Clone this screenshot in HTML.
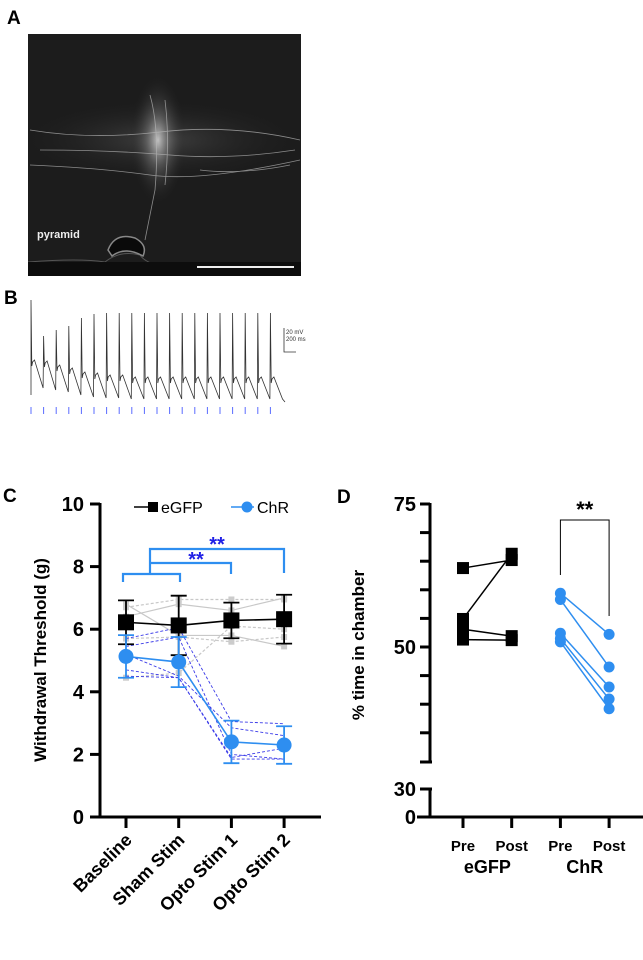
<!DOCTYPE html>
<html><head><meta charset="utf-8"><style>
body{margin:0;background:#fff;width:643px;height:960px;overflow:hidden;font-family:"Liberation Sans",Arial,sans-serif}
svg{position:absolute;left:0;top:0}
</style></head><body>
<svg width="643" height="960" viewBox="0 0 643 960" font-family="Liberation Sans, Arial, sans-serif">
<defs>
<radialGradient id="glow" cx="0.5" cy="0.5" r="0.5">
<stop offset="0" stop-color="#d8d8d8" stop-opacity="0.85"/>
<stop offset="0.4" stop-color="#888" stop-opacity="0.45"/>
<stop offset="1" stop-color="#222" stop-opacity="0"/>
</radialGradient>
<radialGradient id="glow2" cx="0.5" cy="0.5" r="0.5">
<stop offset="0" stop-color="#666" stop-opacity="0.5"/>
<stop offset="1" stop-color="#222" stop-opacity="0"/>
</radialGradient>
<clipPath id="clipA"><rect x="28" y="34" width="273" height="242"/></clipPath>
</defs>
<!-- Panel A -->
<text x="7" y="24" font-size="19" font-weight="bold">A</text>
<g clip-path="url(#clipA)">
<rect x="28" y="34" width="273" height="242" fill="#1c1c1c"/>
<ellipse cx="160" cy="140" rx="140" ry="40" fill="url(#glow2)"/>
<ellipse cx="158" cy="140" rx="28" ry="65" fill="url(#glow)"/>
<g stroke="#bbb" stroke-width="0.8" fill="none" opacity="0.7">
<path d="M30 165 Q100 168 150 175 T300 160"/>
<path d="M30 130 Q90 140 160 132 T300 140"/>
<path d="M40 150 Q110 150 170 155 T295 150"/>
<path d="M150 95 Q160 130 155 190 L145 240"/>
<path d="M165 100 Q170 140 165 185"/>
<path d="M200 170 Q240 175 290 165"/>
</g>
<path d="M28 262 Q80 258 105 262 Q120 250 140 255 Q150 270 200 268 L301 268" stroke="#555" fill="none"/>
<path d="M108 250 Q115 232 135 238 Q148 245 143 256 Q125 246 112 256 Z" fill="#0a0a0a" stroke="#888" stroke-width="1.5"/>
<rect x="28" y="262" width="273" height="14" fill="#0d0d0d"/>
<text x="37" y="238" font-size="11" font-weight="bold" fill="#eee">pyramid</text>
<line x1="197" y1="267" x2="294" y2="267" stroke="#eee" stroke-width="2"/>
</g>
<!-- Panel B -->
<text x="4" y="304" font-size="19" font-weight="bold">B</text>
<g id="trace"></g>
<g>
<path d="M284 328 V352 H296" stroke="#333" fill="none" stroke-width="0.8"/>
<text x="286" y="334" font-size="6" fill="#333">20 mV</text>
<text x="286" y="341" font-size="6" fill="#333">200 ms</text>
</g>
<!-- Panel C -->
<text x="3" y="502" font-size="19" font-weight="bold">C</text>
<g id="chartC"></g>
<!-- Panel D -->
<text x="337" y="503" font-size="19" font-weight="bold">D</text>
<g id="chartD"></g>
</svg>
<script>
const NS="http://www.w3.org/2000/svg";
function mk(p,t,a,txt){const e=document.createElementNS(NS,t);for(const k in a)e.setAttribute(k,a[k]);if(txt!==undefined)e.textContent=txt;p.appendChild(e);return e;}

// ---- Panel B data ----
const spikePeaks=[300,336,330,326,318,314,313,313,313,313,313,313,313,313,313,313,313,313,313,313];
const afterHumps=[360,361,365,368,372,373,375,375,377,377,377,377,377,377,377,377,377,377,377,377];
const troughs=[388,390,392,395,397,398,398,399,399,399,399,399,399,399,399,399,399,399,399,399];
(function(){
 const g=document.getElementById('trace');
 const x0=31,dx=12.6;
 let d="M31 395";
 spikePeaks.forEach((p,i)=>{const x=x0+i*dx;
  d+=` L${x} ${p} L${x+0.8} ${afterHumps[i]+6} L${x+1.6} ${afterHumps[i]+2} L${x+3.5} ${afterHumps[i]} L${x+dx-0.5} ${troughs[i]}`;
 });
 d+=` L${x0+20*dx+2} 402`;
 const t=mk(g,'path',{d:d,fill:'none',stroke:'#333','stroke-width':0.8});
 
 
 spikePeaks.forEach((p,i)=>{const x=x0+i*dx;
  const s=mk(g,'line',{x1:x,x2:x,y1:407,y2:414,stroke:'#5a6cff','stroke-width':1});
  
  
 });
})();

// ---- Panel C data ----
const cCategories=["Baseline","Sham Stim","Opto Stim 1","Opto Stim 2"];
const cTicks=[0,2,4,6,8,10];
const egfpMean=[6.22,6.12,6.28,6.32];
const egfpErr=[0.7,0.95,0.57,0.78];
const chrMean=[5.13,4.95,2.4,2.3];
const chrErr=[0.68,0.8,0.68,0.6];
const egfpInd1=[6.7,6.95,6.95,6.95];
const egfpInd2=[6.4,6.8,6.6,7.0];
const egfpInd3=[5.7,5.75,5.6,5.75];
const egfpInd4=[6.8,5.8,5.8,5.45];
const egfpInd5=[4.45,4.6,6.1,6.0];
const chrInd1=[5.7,6.05,3.05,2.98];
const chrInd2=[5.2,4.5,2.85,2.6];
const chrInd3=[4.7,4.45,1.9,2.2];
const chrInd4=[4.5,4.45,1.85,1.85];
const chrInd5=[5.45,5.75,2.0,1.85];
(function(){
 const g=document.getElementById('chartC');
 const y=v=>817-v*31.3;
 const x=i=>126+i*52.7;
 const BL="#2e8ef0";
 let a=mk(g,'line',{x1:100,x2:100,y1:503,y2:818,stroke:'#000','stroke-width':3});
 
 a=mk(g,'line',{x1:98.5,x2:321,y1:817,y2:817,stroke:'#000','stroke-width':3});
 
 cTicks.forEach(v=>{mk(g,'line',{x1:90,x2:100,y1:y(v),y2:y(v),stroke:'#000','stroke-width':3});
  const t=mk(g,'text',{x:84,y:y(v)+7,'font-size':20,'font-weight':'bold','text-anchor':'end'},v);
  });
 cCategories.forEach((c,i)=>{mk(g,'line',{x1:x(i),x2:x(i),y1:817,y2:828,stroke:'#000','stroke-width':3});
  const t=mk(g,'text',{x:0,y:0,'font-size':18,'font-weight':'bold','text-anchor':'end',transform:`translate(${x(i)+7},${841}) rotate(-45)`},c);
  });
 const yt=mk(g,'text',{x:0,y:0,'font-size':17,'font-weight':'bold','text-anchor':'middle',transform:'translate(46,660) rotate(-90)'},'Withdrawal Threshold (g)');
 
 [egfpInd1,egfpInd2,egfpInd3,egfpInd4,egfpInd5].forEach((arr,k)=>{
  const l=mk(g,'polyline',{points:arr.map((v,i)=>x(i)+','+y(v)).join(' '),fill:'none',stroke:'#c8c8c8','stroke-width':1.2,'stroke-dasharray':k%2?'none':'3,2'});
  
  arr.forEach((v,i)=>mk(g,'rect',{x:x(i)-3,y:y(v)-3,width:6,height:6,fill:'#ccc'}));
 });
 [chrInd1,chrInd2,chrInd3,chrInd4,chrInd5].forEach(arr=>{
  const l=mk(g,'polyline',{points:arr.map((v,i)=>x(i)+','+y(v)).join(' '),fill:'none',stroke:'#3a3ae8','stroke-width':0.9,'stroke-dasharray':'3,2'});
  
 });
 function series(m,e,col,sq,name){
  const l=mk(g,'polyline',{points:m.map((v,i)=>x(i)+','+y(v)).join(' '),fill:'none',stroke:col,'stroke-width':1.6});
  
  m.forEach((v,i)=>{
   mk(g,'path',{d:`M${x(i)} ${y(v-e[i])} V${y(v+e[i])} M${x(i)-8} ${y(v-e[i])} H${x(i)+8} M${x(i)-8} ${y(v+e[i])} H${x(i)+8}`,stroke:col,'stroke-width':1.8,fill:'none'});
   const p=sq?mk(g,'rect',{x:x(i)-8,y:y(v)-8,width:16,height:16,fill:col}):mk(g,'circle',{cx:x(i),cy:y(v),r:7.5,fill:col});
   
  });
 }
 series(egfpMean,egfpErr,'#000',true,'egfp');
 series(chrMean,chrErr,BL,false,'chr');
 const lg=mk(g,'g',{});
 mk(lg,'line',{x1:134,x2:157,y1:507,y2:507,stroke:'#000','stroke-width':1.5});
 mk(lg,'rect',{x:148,y:502,width:10,height:10,fill:'#000'});
 mk(lg,'text',{x:161,y:513,'font-size':16},'eGFP');
 mk(lg,'line',{x1:231,x2:254,y1:507,y2:507,stroke:BL,'stroke-width':1.5});
 mk(lg,'circle',{cx:247,cy:507,r:5.5,fill:BL});
 mk(lg,'text',{x:257,y:513,'font-size':16},'ChR');
 const br=mk(g,'path',{d:'M123 582 V574 H180 V582 M150 574 V549 H284 V573 M150 563 H231 V574',stroke:BL,'stroke-width':2.2,fill:'none'});
 
 mk(g,'text',{x:217,y:551,'font-size':20,'font-weight':'bold',fill:'#1f1fe6','text-anchor':'middle'},'**');
 mk(g,'text',{x:196,y:566,'font-size':20,'font-weight':'bold',fill:'#1f1fe6','text-anchor':'middle'},'**');
})();

// ---- Panel D data ----
const dCategories=["Pre","Post","Pre","Post"];
const dGroups=["eGFP","ChR"];
const egfpPre=[63.8,54.9,53.1,51.3];
const egfpPost=[65.2,66.3,51.9,51.2];
const chrPre=[59.4,58.3,52.4,51.5,50.9];
const chrPost=[52.2,46.5,43.0,40.9,39.2];
(function(){
 const g=document.getElementById('chartD');
 const y=v=>v>=30?647-(v-50)*5.72:817-v*(28/30);
 const x=i=>463+i*48.7;
 const BL="#2e8ef0";
 let a=mk(g,'path',{d:'M430 503 V762 M420 762 H432 M430 788 V818 M420 789 H432',stroke:'#000','stroke-width':3,fill:'none'});
 
 a=mk(g,'line',{x1:417,x2:643,y1:817,y2:817,stroke:'#000','stroke-width':3});
 
 for(let v=35;v<=75;v+=5)mk(g,'line',{x1:420,x2:430,y1:y(v),y2:y(v),stroke:'#000','stroke-width':3});
 [[75,y(75)],[50,y(50)],[30,789],[0,817]].forEach(([v,py])=>{
  const t=mk(g,'text',{x:416,y:py+7,'font-size':20,'font-weight':'bold','text-anchor':'end'},v);
  });
 const yt=mk(g,'text',{x:0,y:0,'font-size':17,'font-weight':'bold','text-anchor':'middle',transform:'translate(364,645) rotate(-90)'},'% time in chamber');
 
 dCategories.forEach((c,i)=>{mk(g,'line',{x1:x(i),x2:x(i),y1:817,y2:828,stroke:'#000','stroke-width':3});
  const t=mk(g,'text',{x:x(i),y:851,'font-size':15,'font-weight':'bold','text-anchor':'middle'},c);
  });
 dGroups.forEach((c,i)=>{const t=mk(g,'text',{x:(x(2*i)+x(2*i+1))/2,y:873,'font-size':18,'font-weight':'bold','text-anchor':'middle'},c);
  });
 egfpPre.forEach((v,k)=>{const l=mk(g,'line',{x1:x(0),y1:y(v),x2:x(1),y2:y(egfpPost[k]),stroke:'#000','stroke-width':1.5});
  
  [[0,v],[1,egfpPost[k]]].forEach(([i,w])=>{const p=mk(g,'rect',{x:x(i)-6,y:y(w)-6,width:12,height:12,fill:'#000'});
   });});
 chrPre.forEach((v,k)=>{const l=mk(g,'line',{x1:x(2),y1:y(v),x2:x(3),y2:y(chrPost[k]),stroke:BL,'stroke-width':1.5});
  
  [[2,v],[3,chrPost[k]]].forEach(([i,w])=>{const p=mk(g,'circle',{cx:x(i),cy:y(w),r:5.5,fill:BL});
   });});
 const br=mk(g,'path',{d:`M${x(2)} 575 V520 H${x(3)} V616`,stroke:'#000','stroke-width':1,fill:'none'});
 
 mk(g,'text',{x:(x(2)+x(3))/2,y:517,'font-size':22,'font-weight':'bold','text-anchor':'middle'},'**');
})();
</script>
</body></html>
